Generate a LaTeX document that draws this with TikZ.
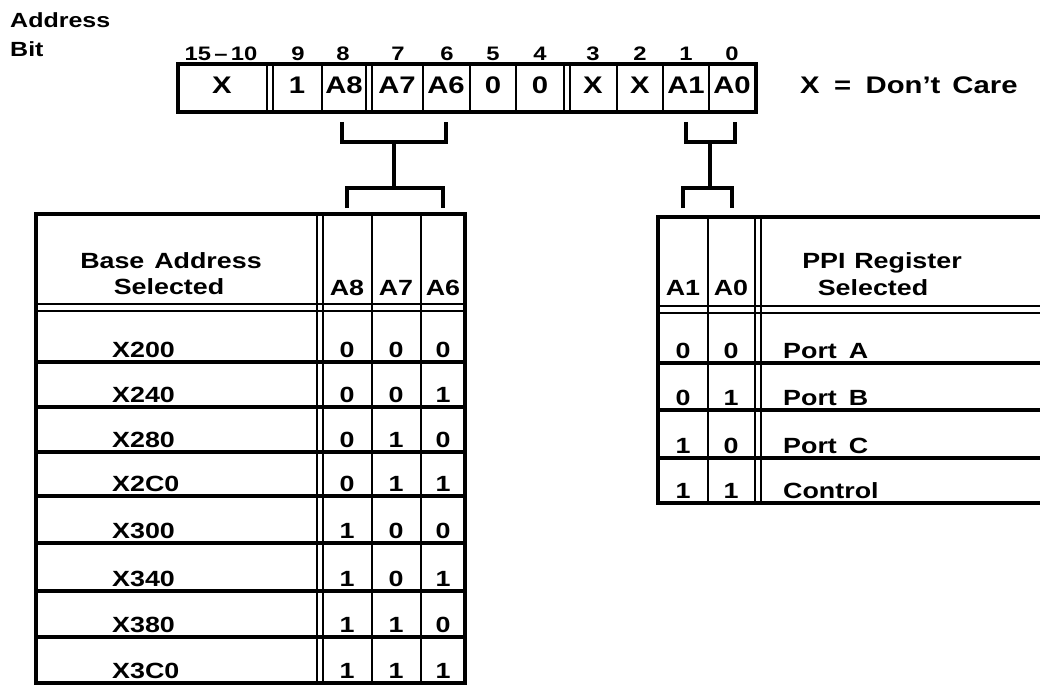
\documentclass[tikz,border=0pt]{standalone}
\usepackage{fontspec}
\setmainfont{Liberation Sans}[FakeStretch=1.22]
\begin{document}
\begin{tikzpicture}[x=1pt,y=-1pt,
  outer/.style={line width=3.8pt, line join=miter},
  rule/.style={line width=2.5pt},
  rowrule/.style={line width=3.2pt},
  dbl/.style={line width=1.9pt},
  brk/.style={line width=3.6pt, line join=miter},
  lbl/.style={font=\fontsize{22}{26}\selectfont\bfseries, inner sep=0pt, anchor=base},
  reglbl/.style={font=\fontsize{24}{28}\selectfont\bfseries, inner sep=0pt, anchor=base},
  bitnum/.style={font=\fontsize{19.5}{23}\selectfont\bfseries, inner sep=0pt, anchor=base},
]
\useasboundingbox (0,0) rectangle (1040,687);

% ---------- title ----------
\node[bitnum, anchor=base west, font=\fontsize{20.5}{24}\selectfont\bfseries] (addr) at (10,28) {Address};
\node[bitnum, anchor=base west, font=\fontsize{20.5}{24}\selectfont\bfseries] (bit) at (10,57) {Bit};

% ---------- bit numbers ----------
\foreach \nm/\x/\t in {b15/221/15\,--\,10, b9/298/9, b8/343/8, b7/398/7, b6/447/6,
  b5/493/5, b4/540/4, b3/593/3, b2/640/2, b1/686/1, b0/732/0}
  \node[bitnum] (\nm) at (\x,61) {\t};

% ---------- register ----------
\foreach \x in {322,423,470,516,617,663,709}
  \draw[rule] (\x,64) -- (\x,112);
\foreach \x in {267,273,366,372,564,570}
  \draw[dbl] (\x,64) -- (\x,112);
\draw[outer] (178,64) rectangle (756,112);
\foreach \nm/\x/\t in {rX/222/X, r9/297/1, rA8/344/A8, rA7/397/A7, rA6/446/A6,
  r5/493/0, r4/540/0, r3/593/X, r2/640/X, rA1/686/A1, rA0/732/A0}
  \node[reglbl] (\nm) at (\x,94) {\t};
\node[reglbl, anchor=base west] (dc) at (800,94) {X\hspace{0.6em}=\hspace{0.6em}Don't\hspace{0.5em}Care};

% ---------- brackets ----------
\coordinate (bA8) at (342,122);
\coordinate (bA6) at (446,122);
\coordinate (jL)  at (394,142);
\coordinate (jL2) at (394,188);
\coordinate (tA8) at (347,208);
\coordinate (tA6) at (443,208);
\draw[brk] (bA8) |- (jL) -| (bA6);
\draw[brk] (jL) -- (jL2);
\draw[brk] (tA8) |- (jL2) -| (tA6);

\coordinate (bA1) at (686,122);
\coordinate (bA0) at (735,122);
\coordinate (jR)  at (710,142);
\coordinate (jR2) at (710,188);
\coordinate (tA1) at (683,208);
\coordinate (tA0) at (732,208);
\draw[brk] (bA1) |- (jR) -| (bA0);
\draw[brk] (jR) -- (jR2);
\draw[brk] (tA1) |- (jR2) -| (tA0);

% ---------- left table ----------
\foreach \x in {372,421}
  \draw[rule] (\x,214) -- (\x,683);
\foreach \x in {317,323}
  \draw[dbl] (\x,214) -- (\x,683);
\foreach \y in {304,311}
  \draw[dbl] (36,\y) -- (465,\y);
\foreach \y in {362,407,452,496,543,591,637}
  \draw[rowrule] (36,\y) -- (465,\y);
\draw[outer] (36,214) rectangle (465,683);

\node[lbl] (bah1) at (171,268) {Base\hspace{0.45em}Address};
\node[lbl] (bah2) at (169,294) {Selected};
\node[lbl] (hA8) at (347,295) {A8};
\node[lbl] (hA7) at (396,295) {A7};
\node[lbl] (hA6) at (443,295) {A6};

\foreach \i/\yb/\nm/\a/\b/\c in {1/357/X200/0/0/0, 2/402/X240/0/0/1, 3/447/X280/0/1/0,
  4/491/X2C0/0/1/1, 5/538/X300/1/0/0, 6/586/X340/1/0/1, 7/632/X380/1/1/0, 8/678/X3C0/1/1/1}{
  \node[lbl, anchor=base west] (L\i) at (112,\yb) {\nm};
  \node[lbl] (L\i a) at (347,\yb) {\a};
  \node[lbl] (L\i b) at (396,\yb) {\b};
  \node[lbl] (L\i c) at (443,\yb) {\c};
}

% ---------- right table ----------
\draw[rule] (708,217) -- (708,503);
\foreach \x in {755,761}
  \draw[dbl] (\x,217) -- (\x,503);
\foreach \y in {306,313}
  \draw[dbl] (658,\y) -- (1045,\y);
\foreach \y in {363,410,458}
  \draw[rowrule] (658,\y) -- (1045,\y);
\draw[outer] (1045,217) -- (658,217) -- (658,503) -- (1045,503);

\node[lbl] (pr1) at (882,268) {PPI\hspace{0.4em}Register};
\node[lbl] (pr2) at (873,295) {Selected};
\node[lbl] (hA1) at (683,295) {A1};
\node[lbl] (hA0) at (731,295) {A0};

\foreach \i/\yb/\nm/\a/\b in {1/358/Port\hspace{0.55em}A/0/0, 2/405/Port\hspace{0.55em}B/0/1,
  3/453/Port\hspace{0.55em}C/1/0, 4/498/Control/1/1}{
  \node[lbl, anchor=base west] (R\i) at (783,\yb) {\nm};
  \node[lbl] (R\i a) at (683,\yb) {\a};
  \node[lbl] (R\i b) at (731,\yb) {\b};
}
\end{tikzpicture}
\end{document}
